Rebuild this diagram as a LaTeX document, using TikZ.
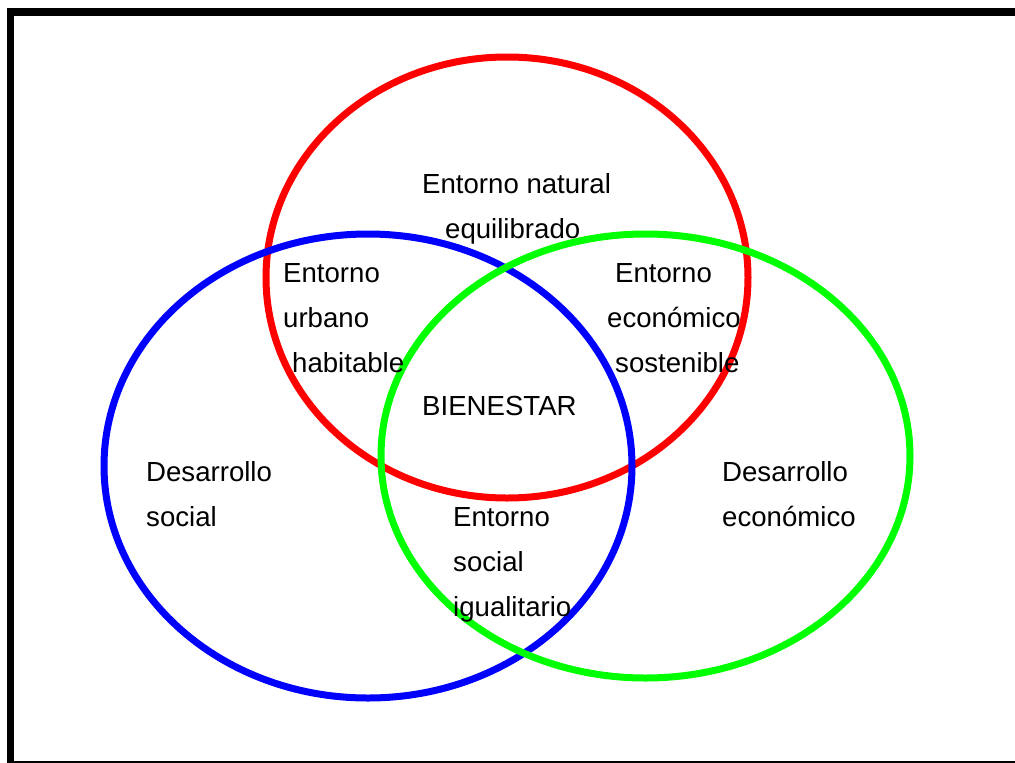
\documentclass[tikz,border=0pt]{standalone}
\usepackage{fontspec}
\setmainfont{Liberation Sans}
\begin{document}
\begin{tikzpicture}[x=1pt,y=-1pt,
  ring/.style={line width=7pt},
  lbl/.style={anchor=base west,inner sep=0pt,font=\fontsize{27.6}{30}\selectfont}]
\useasboundingbox (0,0) rectangle (1015,763);
% frame
\fill[black] (7,8) rectangle (1015,16);
\fill[black] (7,8) rectangle (14,763);
\fill[black] (7,761) rectangle (1015,763);
% circles
\draw[ring,red] (507,277.5) ellipse [x radius=241, y radius=220.5];
\draw[ring,blue] (368,466) ellipse [x radius=264, y radius=232];
\draw[ring,green] (645.5,456) ellipse [x radius=264.5, y radius=222];
% labels
\node[lbl] (n1) at (422,193) {Entorno natural};
\node[lbl] (n2) at (445,238) {equilibrado};
\node[lbl] (u1) at (283,282) {Entorno};
\node[lbl] (u2) at (283,327) {urbano};
\node[lbl] (u3) at (292,372) {habitable};
\node[lbl] (e1) at (615,282) {Entorno};
\node[lbl] (e2) at (607,327) {económico};
\node[lbl] (e3) at (615,372) {sostenible};
\node[lbl] (b) at (422,415) {BIENESTAR};
\node[lbl] (s1) at (146,481) {Desarrollo};
\node[lbl] (s2) at (146,526) {social};
\node[lbl] (d1) at (722,481) {Desarrollo};
\node[lbl] (d2) at (722,526) {económico};
\node[lbl] (i1) at (453,526) {Entorno};
\node[lbl] (i2) at (453,571) {social};
\node[lbl] (i3) at (453,616) {igualitario};
\end{tikzpicture}
\end{document}
